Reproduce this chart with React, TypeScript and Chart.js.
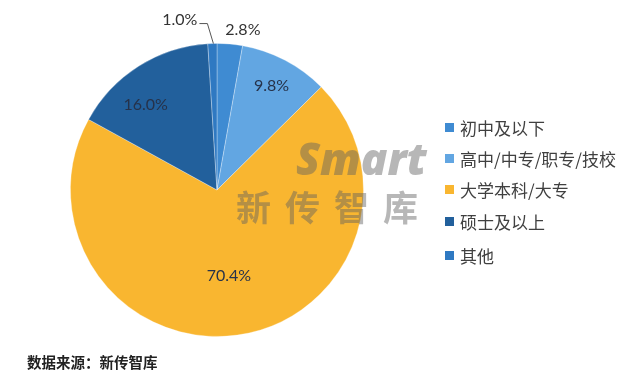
import React, { useEffect, useRef } from "react";
import { Chart, registerables } from "chart.js";

Chart.register(...registerables);

const categories = ["初中及以下", "高中/中专/职专/技校", "大学本科/大专", "硕士及以上", "其他"];
const values = [2.8, 9.8, 70.4, 16.0, 1.0];
const valueLabels = ["2.8%", "9.8%", "70.4%", "16.0%", "1.0%"];
const colors = ["#3f8bd2", "#62a6e2", "#f9b630", "#22609c", "#2f79c2"];
const sourceText = "数据来源：新传智库";

// label placement styling (not data)
const insideFraction = [0, 0.8, 0.59, 0.76, 0];
const angleNudge = [0, 0, 0, -0.13, 0];

const labelPlugin = {
  id: "pctLabels",
  afterDatasetsDraw(chart: any) {
    const ctx = chart.ctx;
    const meta = chart.getDatasetMeta(0);
    ctx.save();
    ctx.font = "16px Lato, 'Open Sans', sans-serif";
    ctx.textAlign = "center";
    ctx.textBaseline = "middle";
    meta.data.forEach((arc: any, i: number) => {
      const { x, y, startAngle, endAngle, outerRadius } = arc.getProps(
        ["x", "y", "startAngle", "endAngle", "outerRadius"],
        true
      );
      const mid = (startAngle + endAngle) / 2 + angleNudge[i];
      if (insideFraction[i] > 0) {
        const r = outerRadius * insideFraction[i];
        ctx.fillStyle = "#26324a";
        ctx.fillText(valueLabels[i], x + Math.cos(mid) * r, y + Math.sin(mid) * r);
      } else if (i === 0) {
        const ex = x + Math.cos(mid) * outerRadius;
        const ey = y + Math.sin(mid) * outerRadius;
        ctx.fillStyle = "#333333";
        ctx.fillText(valueLabels[i], ex + 13, ey - 14);
      } else {
        const ex = x + Math.cos(mid) * outerRadius;
        const ey = y + Math.sin(mid) * outerRadius;
        ctx.strokeStyle = "#555";
        ctx.lineWidth = 1;
        ctx.beginPath();
        ctx.moveTo(ex + 1, ey);
        ctx.lineTo(ex - 5, ey - 20);
        ctx.lineTo(ex - 13, ey - 20);
        ctx.stroke();
        ctx.fillStyle = "#333333";
        ctx.textAlign = "right";
        ctx.fillText(valueLabels[i], ex - 15, ey - 24);
        ctx.textAlign = "center";
      }
    });
    ctx.restore();
  },
};

export default function App() {
  const ref = useRef<HTMLCanvasElement | null>(null);
  useEffect(() => {
    document.body.style.margin = "0";
    if (!ref.current) return;
    const chart = new Chart(ref.current, {
      type: "pie",
      data: {
        labels: categories,
        datasets: [
          {
            data: values,
            backgroundColor: colors,
            borderColor: "rgba(255,255,255,0.3)",
            borderWidth: 1,
          },
        ],
      },
      options: {
        responsive: false,
        animation: false,
        layout: { padding: { left: 70, right: 276, top: 43, bottom: 47 } },
        plugins: {
          legend: { display: false },
          tooltip: { enabled: false },
        },
      },
      plugins: [labelPlugin],
    });
    return () => chart.destroy();
  }, []);

  const legendTops = [127, 158, 189, 221, 255];
  return (
    <div style={{ position: "relative", width: 640, height: 384, background: "#fff", overflow: "hidden" }}>
      <canvas ref={ref} width={640} height={384} style={{ position: "absolute", left: 0, top: 0 }} />
      <div
        style={{
          position: "absolute",
          left: 296,
          top: 134,
          fontFamily: "'Open Sans', 'DejaVu Sans', sans-serif",
          fontWeight: 800,
          fontStyle: "italic",
          fontSize: 44,
          color: "rgba(95,95,95,0.45)",
          letterSpacing: 0,
          lineHeight: "48px",
          pointerEvents: "none",
        }}
      >
        Smart
      </div>
      <div
        style={{
          position: "absolute",
          left: 236,
          top: 186,
          fontFamily: "'Noto Sans CJK SC', sans-serif",
          fontWeight: 700,
          fontSize: 35,
          color: "rgba(95,95,95,0.45)",
          letterSpacing: 14,
          lineHeight: "40px",
          whiteSpace: "nowrap",
          pointerEvents: "none",
        }}
      >
        新传智库
      </div>
      {categories.map((c, i) => (
        <div
          key={c}
          style={{
            position: "absolute",
            left: 445,
            top: legendTops[i] - 12,
            height: 24,
            display: "flex",
            alignItems: "center",
            fontFamily: "'Noto Sans CJK SC', sans-serif",
            fontSize: 17,
            color: "#404040",
            whiteSpace: "nowrap",
          }}
        >
          <span style={{ display: "inline-block", width: 9, height: 9, background: colors[i], marginRight: 6 }} />
          {c}
        </div>
      ))}
      <div
        style={{
          position: "absolute",
          left: 27,
          top: 351,
          fontFamily: "'Noto Sans CJK SC', sans-serif",
          fontWeight: 700,
          fontSize: 14.5,
          color: "#222",
          lineHeight: "22px",
          whiteSpace: "nowrap",
        }}
      >
        {sourceText}
      </div>
    </div>
  );
}
